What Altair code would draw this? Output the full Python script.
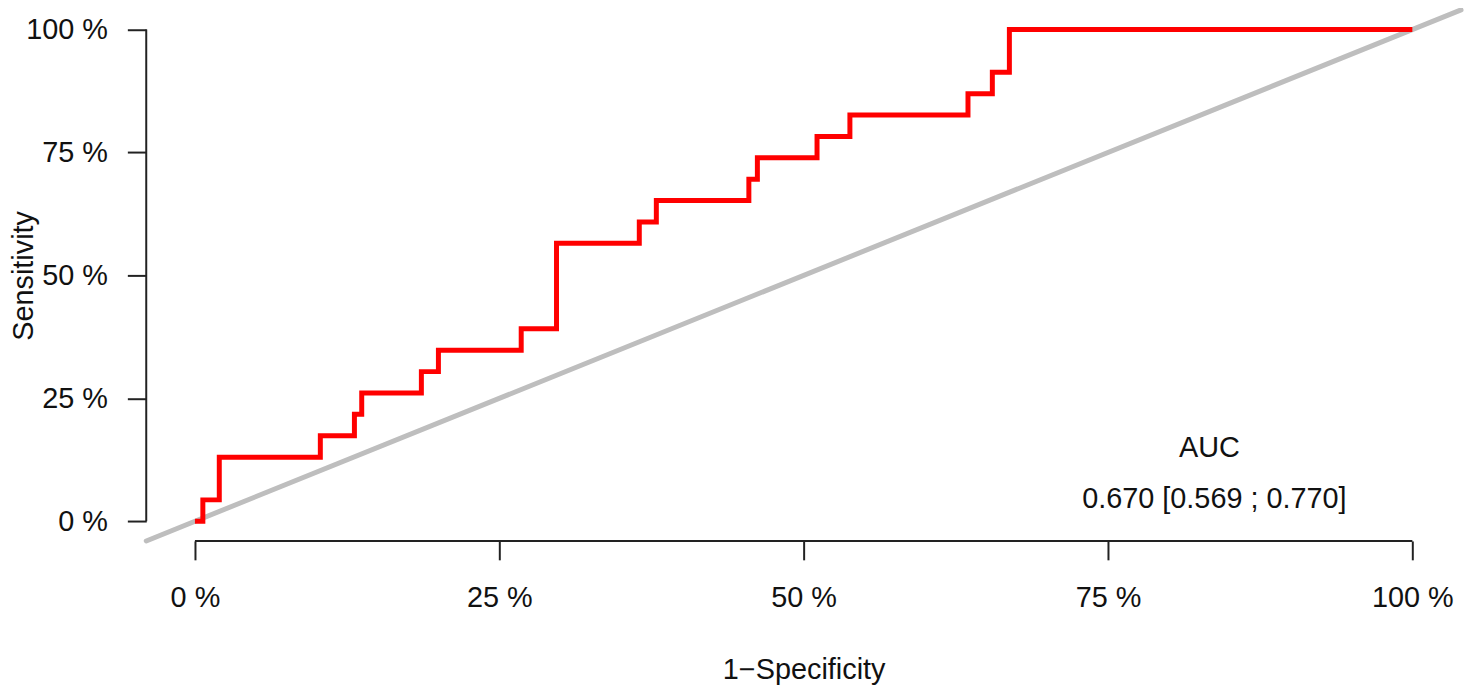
import altair as alt
import pandas as pd

# ROC step points (percent)
fpr = [0, 0.65, 2.0, 10.3, 13.1, 13.7, 18.6, 20.0, 26.8, 29.7, 36.5, 37.9,
       45.5, 46.2, 51.1, 53.8, 63.5, 65.5, 66.9, 100]
tpr = [0, 4.35, 13.04, 17.39, 21.74, 26.09, 30.43, 34.78, 39.13, 56.52, 60.87,
       65.22, 69.57, 73.91, 78.26, 82.61, 86.96, 91.30, 100, 100]

tick_values = [0, 25, 50, 75, 100]
x_title = "1\u2212Specificity"
y_title = "Sensitivity"
auc_label = "AUC"
auc_text = "0.670 [0.569 ; 0.770]"

DOMAIN = [-4, 104]
W, H = 1322, 534
FONT = "Liberation Sans"
FS = 29

roc = pd.DataFrame({"fpr": fpr, "tpr": tpr, "i": range(len(fpr))})
one = pd.DataFrame({"k": [0]})

xs = alt.Scale(domain=DOMAIN, nice=False, zero=False)
ys = alt.Scale(domain=DOMAIN, nice=False, zero=False)

x_axis = alt.Axis(values=tick_values, labelExpr="datum.value + ' %'", domain=False,
                  grid=False, tickSize=19, tickWidth=2, tickColor="#222222",
                  labelFont=FONT, labelFontSize=FS, labelColor="#111111",
                  labelPadding=24, labelFlush=False, labelOverlap=False,
                  title=x_title, titleFont=FONT, titleFontSize=FS,
                  titleFontWeight="normal", titleColor="#111111",
                  titleX=W / 2, titleY=138, titleAlign="center",
                  titleBaseline="alphabetic")
y_axis = alt.Axis(values=tick_values, labelExpr="datum.value + ' %'", domain=False,
                  grid=False, tickSize=19, tickWidth=2, tickColor="#222222",
                  labelFont=FONT, labelFontSize=FS, labelColor="#111111",
                  labelPadding=20, labelFlush=False, labelOverlap=False,
                  title=y_title, titleFont=FONT, titleFontSize=FS,
                  titleFontWeight="normal", titleColor="#111111",
                  titleAngle=-90, titleX=-114, titleY=H / 2, titleAlign="center",
                  titleBaseline="alphabetic")

diag = alt.Chart(one).mark_rule(color="#BEBEBE", strokeWidth=5, strokeCap="round").encode(
    x=alt.X(datum=DOMAIN[0], scale=xs, axis=x_axis, title=x_title),
    y=alt.Y(datum=DOMAIN[0], scale=ys, axis=y_axis, title=y_title),
    x2=alt.X2(datum=DOMAIN[1]),
    y2=alt.Y2(datum=DOMAIN[1]),
)

x_line = alt.Chart(one).mark_rule(color="#222222", strokeWidth=2).encode(
    x=alt.X(datum=tick_values[0], scale=xs, axis=x_axis, title=x_title),
    x2=alt.X2(datum=tick_values[-1]),
    y=alt.value(H),
)
y_line = alt.Chart(one).mark_rule(color="#222222", strokeWidth=2).encode(
    y=alt.Y(datum=tick_values[0], scale=ys, axis=y_axis, title=y_title),
    y2=alt.Y2(datum=tick_values[-1]),
    x=alt.value(0),
)

curve = alt.Chart(roc).mark_line(color="#FF0000", strokeWidth=5,
                                 interpolate="step-after", strokeJoin="miter").encode(
    x=alt.X("fpr:Q", scale=xs, axis=x_axis, title=x_title),
    y=alt.Y("tpr:Q", scale=ys, axis=y_axis, title=y_title),
    order="i:Q",
)

t1 = alt.Chart(one).mark_text(font=FONT, fontSize=FS, color="#111111",
                              align="center", baseline="middle").encode(
    x=alt.value(1069), y=alt.value(441), text=alt.value(auc_label))
t2 = alt.Chart(one).mark_text(font=FONT, fontSize=FS, color="#111111",
                              align="center", baseline="middle").encode(
    x=alt.value(1074), y=alt.value(492), text=alt.value(auc_text))

chart = alt.layer(diag, x_line, y_line, curve, t1, t2).properties(
    width=W, height=H,
    autosize=alt.AutoSizeParams(type="none"),
    padding={"left": 139, "top": 0, "right": 7, "bottom": 144},
).configure(background="white").configure_view(strokeWidth=0, stroke="transparent")

chart.save("out.html", embed_options={"renderer": "svg", "actions": False})
